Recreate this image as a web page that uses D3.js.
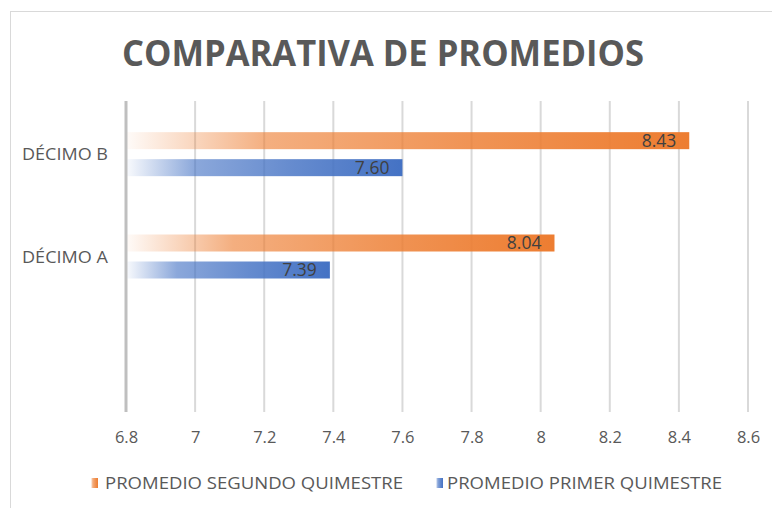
<!DOCTYPE html>
<html lang="es">
<head>
<meta charset="UTF-8">
<title>Comparativa de promedios</title>
<script src="https://d3js.org/d3.v7.min.js"></script>
<style>
  body { margin: 0; padding: 0; background: white; }
  svg { display: block; font-family: "Open Sans", sans-serif; }
</style>
</head>
<body>
<div id="chart"></div>
<script>
// data
const categories = ["DÉCIMO B", "DÉCIMO A", ""];
const seriesNames = ["PROMEDIO SEGUNDO QUIMESTRE", "PROMEDIO PRIMER QUIMESTRE"];
const segundo = [8.43, 8.04, null];
const primer = [7.60, 7.39, null];
const xTicks = [6.8, 7, 7.2, 7.4, 7.6, 7.8, 8, 8.2, 8.4, 8.6];
const colors = ["#ED7D31", "#4472C4"];

const width = 772, height = 508;
const svg = d3.select("#chart").append("svg")
    .attr("width", width).attr("height", height);

// chart border
svg.append("rect")
    .attr("x", 10.5).attr("y", 11.5)
    .attr("width", 800).attr("height", 520)
    .attr("fill", "white").attr("stroke", "#d9d9d9");

// gradients, one per series
const defs = svg.append("defs");
colors.forEach((c, i) => {
  const g = defs.append("linearGradient").attr("id", "grad" + i)
      .attr("x1", "0%").attr("x2", "100%").attr("y1", "0%").attr("y2", "0%");
  g.append("stop").attr("offset", "0%").attr("stop-color", c).attr("stop-opacity", 0.03);
  g.append("stop").attr("offset", "25%").attr("stop-color", c).attr("stop-opacity", 0.62);
  g.append("stop").attr("offset", "60%").attr("stop-color", c).attr("stop-opacity", 0.82);
  g.append("stop").attr("offset", "100%").attr("stop-color", c).attr("stop-opacity", 1);
});

const plot = { left: 126, right: 748, top: 103, bottom: 410 };

const x = d3.scaleLinear().domain([6.8, 8.6]).range([plot.left, plot.right]);
const y = d3.scaleBand().domain(categories).range([plot.top, plot.bottom]);
const inner = d3.scaleBand().domain([0, 1])
    .range([y.bandwidth() * 0.285, y.bandwidth() * 0.715]).paddingInner(0.37);

// title
svg.append("text")
    .attr("x", 383).attr("y", 66)
    .attr("text-anchor", "middle")
    .attr("font-size", 36).attr("font-weight", "bold")
    .attr("fill", "#595959")
    .attr("textLength", 522).attr("lengthAdjust", "spacingAndGlyphs")
    .text("COMPARATIVA DE PROMEDIOS");

// vertical gridlines
svg.append("g").selectAll("line")
  .data(xTicks.slice(1))
  .join("line")
    .attr("x1", d => x(d)).attr("x2", d => x(d))
    .attr("y1", plot.top - 2).attr("y2", plot.bottom + 2)
    .attr("stroke", "#d9d9d9").attr("stroke-width", 2);

// bars
const series = [segundo, primer];
series.forEach((vals, si) => {
  const g = svg.append("g");
  const rows = categories.map((c, i) => ({ c, v: vals[i] })).filter(d => d.v != null);
  g.selectAll("rect").data(rows).join("rect")
      .attr("x", x(6.8))
      .attr("y", d => y(d.c) + inner(si))
      .attr("width", d => x(d.v) - x(6.8))
      .attr("height", inner.bandwidth())
      .attr("fill", `url(#grad${si})`);
  g.selectAll("text").data(rows).join("text")
      .attr("x", d => x(d.v) - 13)
      .attr("y", d => y(d.c) + inner(si) + inner.bandwidth() / 2)
      .attr("dy", "0.36em")
      .attr("text-anchor", "end")
      .attr("font-size", 17.5)
      .attr("fill", "#404040")
      .text(d => d.v.toFixed(2));
});

// value axis line at 6.8
svg.append("line")
    .attr("x1", x(6.8)).attr("x2", x(6.8))
    .attr("y1", plot.top - 2).attr("y2", plot.bottom + 2)
    .attr("stroke", "#bfbfbf").attr("stroke-width", 3);

// x tick labels
const xAxis = svg.append("g")
    .attr("transform", `translate(0,${plot.bottom})`)
    .call(d3.axisBottom(x).tickValues(xTicks).tickSize(0).tickPadding(0).tickFormat(d3.format("")));
xAxis.select(".domain").remove();
xAxis.selectAll("text")
    .attr("y", 33).attr("dy", null)
    .attr("font-size", 16.5).attr("fill", "#595959")
    .attr("font-family", "Open Sans, sans-serif");

// category labels
svg.append("g").selectAll("text")
  .data(categories.filter(c => c))
  .join("text")
    .attr("x", 22)
    .attr("y", d => y(d) + y.bandwidth() / 2)
    .attr("dy", "0.36em")
    .attr("font-size", 17)
    .attr("fill", "#595959")
    .attr("textLength", 86).attr("lengthAdjust", "spacingAndGlyphs")
    .text(d => d);

// legend
const markerX = [91, 436];
const labelX = [105, 447];
const labelLen = [298, 275];
seriesNames.forEach((name, i) => {
  svg.append("rect")
      .attr("x", markerX[i]).attr("y", 478)
      .attr("width", 7).attr("height", 10)
      .attr("fill", `url(#grad${i})`);
  svg.append("text")
      .attr("x", labelX[i]).attr("y", 489)
      .attr("font-size", 17)
      .attr("fill", "#595959")
      .attr("textLength", labelLen[i]).attr("lengthAdjust", "spacingAndGlyphs")
      .text(name);
});
</script>
</body>
</html>
